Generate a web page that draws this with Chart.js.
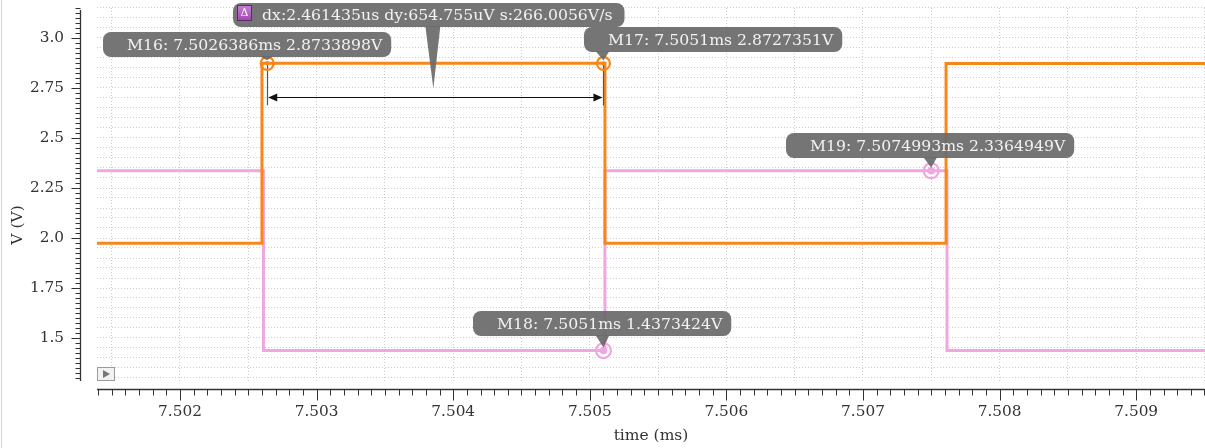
<!DOCTYPE html>
<html>
<head>
<meta charset="utf-8">
<script src="https://cdn.jsdelivr.net/npm/chart.js@4.4.1/dist/chart.umd.min.js"></script>
<style>
  html, body { margin: 0; padding: 0; background: #fff; overflow: hidden; }
  #wrap { position: relative; width: 1205px; height: 448px; }
</style>
</head>
<body>
<div id="wrap"><canvas id="scope" width="1205" height="448"></canvas></div>
<script>
// visible window
const xMin = 7.5013924, xMax = 7.5095037;
const yMin = 1.285, yMax = 3.15;

// two traces: time of each point (ms) and the level reached there (V)
const outTimes = [7.5013924, 7.502600, 7.505111, 7.507608, 7.5095037];
const outLevels = [1.974, 2.8734, 1.974, 2.8730, 2.8730];
const inTimes = [7.5013924, 7.502611, 7.505111, 7.507615, 7.5095037];
const inLevels = [2.3365, 1.4373, 2.3365, 1.4373, 1.4373];

const xTickLabels = ['7.502', '7.503', '7.504', '7.505', '7.506', '7.507', '7.508', '7.509'];
const yTickLabels = ['1.5', '1.75', '2.0', '2.25', '2.5', '2.75', '3.0'];

// markers
const markerNames = ['M16', 'M17', 'M18', 'M19'];
const markerTimes = ['7.5026386', '7.5051', '7.5051', '7.5074993'];
const markerValues = ['2.8733898', '2.8727351', '1.4373424', '2.3364949'];
const markerTrace = [0, 0, 1, 1];
const deltaText = 'dx:2.461435us dy:654.755uV s:266.0056V/s';

const COLORS = ['#f7861b', '#efa8df'];
const FONT = '"DejaVu Serif", "Liberation Serif", serif';

// where each marker's label box sits, relative to the marker
const labelPlace = [
    { dx: -164, dy: -31 },
    { dx: -19, dy: -36 },
    { dx: -130, dy: -40 },
    { dx: -145, dy: -38 }
];

function roundRect(ctx, x, y, w, h, r) {
    ctx.beginPath();
    ctx.moveTo(x + r, y);
    ctx.arcTo(x + w, y, x + w, y + h, r);
    ctx.arcTo(x + w, y + h, x, y + h, r);
    ctx.arcTo(x, y + h, x, y, r);
    ctx.arcTo(x, y, x + w, y, r);
    ctx.closePath();
}

function stepTicks(min, max, step) {
    const out = [];
    for (let k = Math.ceil(min / step - 1e-9); k * step <= max + 1e-12; k++) out.push(k * step);
    return out;
}

function matchLabel(labels, v) {
    return labels.find(l => Math.abs(parseFloat(l) - v) < 1e-7) || '';
}

// keep the plot area fixed, no room reserved for overhanging labels
function fixSize(s, w, h) {
    if (w) s.width = w;
    if (h) s.height = h;
    s.paddingLeft = s.paddingRight = s.paddingTop = s.paddingBottom = 0;
}

const overlay = {
    id: 'overlay',
    afterDraw(chart) {
        const { ctx, chartArea: a, scales: { x, y } } = chart;
        ctx.save();

        // window edge
        ctx.strokeStyle = '#d4d4d4';
        ctx.lineWidth = 1;
        ctx.beginPath(); ctx.moveTo(1.5, 0); ctx.lineTo(1.5, 448); ctx.stroke();

        // y axis, detached from plot
        const ax = 80.5;
        ctx.strokeStyle = '#333';
        ctx.lineWidth = 1.3;
        ctx.beginPath(); ctx.moveTo(ax, a.top + 2); ctx.lineTo(ax, a.bottom); ctx.stroke();
        ctx.lineWidth = 1;
        stepTicks(yMin, yMax, 0.025).forEach(v => {
            const py = Math.round(y.getPixelForValue(v)) + 0.5;
            const major = matchLabel(yTickLabels, v) !== '';
            ctx.beginPath(); ctx.moveTo(ax, py); ctx.lineTo(ax - (major ? 9 : 5), py); ctx.stroke();
        });

        // x axis
        const ay = 389.5;
        ctx.lineWidth = 1.3;
        ctx.beginPath(); ctx.moveTo(a.left, ay); ctx.lineTo(a.right, ay); ctx.stroke();
        ctx.lineWidth = 1;
        stepTicks(xMin, xMax, 0.0001).forEach(v => {
            const px = Math.round(x.getPixelForValue(v)) + 0.5;
            const major = matchLabel(xTickLabels, v) !== '';
            ctx.beginPath(); ctx.moveTo(px, ay); ctx.lineTo(px, ay + (major ? 11 : 6)); ctx.stroke();
        });

        // axis titles
        ctx.fillStyle = '#333';
        ctx.font = '15.5px ' + FONT;
        ctx.textAlign = 'center';
        ctx.textBaseline = 'middle';
        ctx.fillText('time (ms)', (a.left + a.right) / 2, 436);
        ctx.save();
        ctx.translate(18, 225);
        ctx.rotate(-Math.PI / 2);
        ctx.fillText('V (V)', 0, 0);
        ctx.restore();

        // small play button
        ctx.fillStyle = '#f2f2f2';
        ctx.strokeStyle = '#9a9a9a';
        ctx.fillRect(97.5, 367.5, 17, 13);
        ctx.strokeRect(97.5, 367.5, 17, 13);
        ctx.fillStyle = '#777';
        ctx.beginPath(); ctx.moveTo(103, 370); ctx.lineTo(110, 374); ctx.lineTo(103, 378); ctx.closePath(); ctx.fill();

        const pts = markerNames.map((n, i) => ({
            x: x.getPixelForValue(parseFloat(markerTimes[i])),
            y: y.getPixelForValue(parseFloat(markerValues[i]))
        }));

        // delta measurement between M16 and M17
        const p1 = pts[0], p2 = pts[1];
        const arrowY = Math.round(p1.y + 34) + 0.5;
        ctx.strokeStyle = '#555';
        ctx.lineWidth = 1.2;
        [p1, p2].forEach(p => {
            ctx.beginPath(); ctx.moveTo(Math.round(p.x) + 0.5, p.y); ctx.lineTo(Math.round(p.x) + 0.5, p.y + 42); ctx.stroke();
        });
        ctx.strokeStyle = '#111';
        ctx.fillStyle = '#111';
        ctx.lineWidth = 1;
        ctx.beginPath(); ctx.moveTo(p1.x + 2, arrowY); ctx.lineTo(p2.x - 2, arrowY); ctx.stroke();
        ctx.beginPath(); ctx.moveTo(p1.x + 1, arrowY); ctx.lineTo(p1.x + 10, arrowY - 4); ctx.lineTo(p1.x + 10, arrowY + 4); ctx.closePath(); ctx.fill();
        ctx.beginPath(); ctx.moveTo(p2.x - 1, arrowY); ctx.lineTo(p2.x - 10, arrowY - 4); ctx.lineTo(p2.x - 10, arrowY + 4); ctx.closePath(); ctx.fill();

        // marker rings
        pts.forEach((p, i) => {
            const c = COLORS[markerTrace[i]];
            ctx.strokeStyle = c;
            ctx.fillStyle = c;
            ctx.lineWidth = 2.2;
            ctx.beginPath(); ctx.arc(p.x, p.y, markerTrace[i] ? 7.5 : 6.5, 0, Math.PI * 2); ctx.stroke();
            ctx.beginPath(); ctx.arc(p.x, p.y, markerTrace[i] ? 3.8 : 2.2, 0, Math.PI * 2); ctx.fill();
        });

        // marker labels
        ctx.font = '15.7px ' + FONT;
        ctx.textAlign = 'left';
        const boxFill = 'rgba(106,106,106,0.93)';
        pts.forEach((p, i) => {
            const text = `${markerNames[i]}: ${markerTimes[i]}ms ${markerValues[i]}V`;
            const w = ctx.measureText(text).width + 24 + 9;
            const bx = Math.round(p.x + labelPlace[i].dx), by = Math.round(p.y + labelPlace[i].dy);
            const h = 25;
            ctx.fillStyle = boxFill;
            roundRect(ctx, bx, by, w, h, 8);
            ctx.fill();
            ctx.beginPath();
            ctx.moveTo(p.x - 8, by + h - 1);
            ctx.lineTo(p.x + 6, by + h - 1);
            ctx.lineTo(p.x, p.y - 3);
            ctx.closePath();
            ctx.fill();
            ctx.fillStyle = '#f3f3f3';
            ctx.fillText(text, bx + 24, by + h / 2 + 1);
        });

        // delta label
        const dbx = Math.round(p1.x - 34), dby = 3, dh = 24;
        const dw = 29 + ctx.measureText(deltaText).width + 12;
        const midX = (p1.x + p2.x) / 2;
        ctx.fillStyle = boxFill;
        roundRect(ctx, dbx, dby, dw, dh, 8);
        ctx.fill();
        ctx.beginPath();
        ctx.moveTo(midX - 10, dby + dh - 1);
        ctx.lineTo(midX + 5, dby + dh - 1);
        ctx.lineTo(midX - 2, arrowY - 9);
        ctx.closePath();
        ctx.fill();
        const ig = ctx.createLinearGradient(0, dby + 3, 0, dby + 19);
        ig.addColorStop(0, '#c97ad6');
        ig.addColorStop(1, '#9a45a8');
        ctx.fillStyle = ig;
        ctx.fillRect(dbx + 4, dby + 2, 15, 16);
        ctx.strokeStyle = '#5e2a68';
        ctx.lineWidth = 1;
        ctx.strokeRect(dbx + 4.5, dby + 2.5, 14, 15);
        ctx.fillStyle = '#fff';
        ctx.font = '11px ' + FONT;
        ctx.textAlign = 'center';
        ctx.fillText('\u0394', dbx + 11.5, dby + 10);
        ctx.font = '15.7px ' + FONT;
        ctx.textAlign = 'left';
        ctx.fillStyle = '#f3f3f3';
        ctx.fillText(deltaText, dbx + 29, dby + dh / 2 + 1);

        ctx.restore();
    }
};

const gridStyle = { color: '#cdcdcd', lineWidth: 1, drawTicks: false };
const tickFont = { family: FONT, size: 15.3 };

new Chart(document.getElementById('scope'), {
    type: 'line',
    data: {
        datasets: [
            {
                label: 'out',
                data: outTimes.map((t, i) => ({ x: t, y: outLevels[i] })),
                stepped: true,
                borderColor: COLORS[0],
                borderWidth: 3,
                pointRadius: 0,
                fill: false
            },
            {
                label: 'in',
                data: inTimes.map((t, i) => ({ x: t, y: inLevels[i] })),
                stepped: true,
                borderColor: COLORS[1],
                borderWidth: 3,
                pointRadius: 0,
                fill: false
            }
        ]
    },
    options: {
        responsive: false,
        animation: false,
        events: [],
        layout: { padding: { top: 8, right: 0, left: 0, bottom: 0 } },
        plugins: { legend: { display: false }, tooltip: { enabled: false } },
        scales: {
            x: {
                type: 'linear',
                min: xMin,
                max: xMax,
                grid: gridStyle,
                border: { display: false, dash: [1, 2] },
                afterBuildTicks: s => { s.ticks = stepTicks(xMin, xMax, 0.0005).map(v => ({ value: v })); },
                afterFit: s => fixSize(s, 0, 67),
                ticks: {
                    autoSkip: false,
                    maxRotation: 0,
                    padding: 22,
                    color: '#333',
                    font: tickFont,
                    callback: v => matchLabel(xTickLabels, v)
                }
            },
            y: {
                min: yMin,
                max: yMax,
                grid: gridStyle,
                border: { display: false, dash: [1, 2] },
                afterBuildTicks: s => { s.ticks = stepTicks(yMin, yMax, 0.05).map(v => ({ value: v })); },
                afterFit: s => fixSize(s, 97, 0),
                ticks: {
                    autoSkip: false,
                    padding: 33,
                    color: '#333',
                    font: tickFont,
                    callback: v => matchLabel(yTickLabels, v)
                }
            }
        }
    },
    plugins: [overlay]
});
</script>
</body>
</html>
